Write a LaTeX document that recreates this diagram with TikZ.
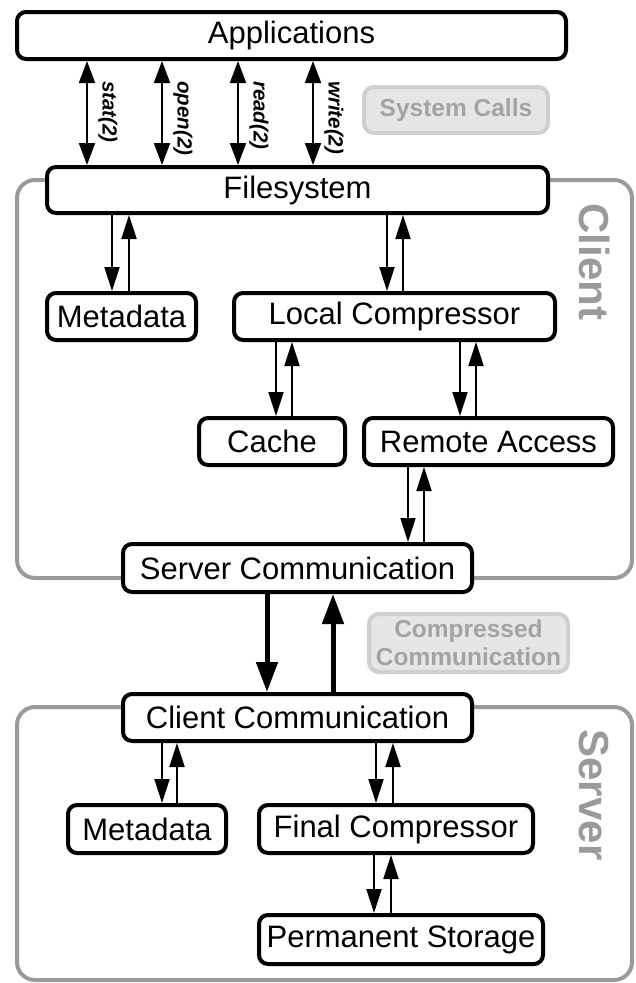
\documentclass[tikz,border=0pt]{standalone}
\usepackage{fontspec}
\setmainfont{Liberation Sans}
\usetikzlibrary{arrows.meta}

\definecolor{regiongray}{HTML}{9A9A9A}
\definecolor{taggray}{HTML}{CFCFCF}
\definecolor{tagfill}{HTML}{E6E6E6}
\definecolor{tagtext}{HTML}{A3A3A3}

\tikzset{
  box/.style={draw=black, line width=4pt, rounded corners=9pt, fill=white, inner sep=0pt,
    font=\fontsize{31}{36}\selectfont},
  region/.style={draw=regiongray, line width=4pt, rounded corners=18pt},
  tag/.style={draw=taggray, fill=tagfill, line width=4pt, rounded corners=10pt, inner sep=0pt,
    text=tagtext, align=center, font=\bfseries\fontsize{24.5}{28}\selectfont},
  side/.style={text=regiongray, rotate=-90, font=\bfseries\fontsize{42}{48}\selectfont},
  flow/.style={-{Triangle[length=24pt,width=15pt]}, line width=2pt},
  bigflow/.style={-{Triangle[length=30pt,width=21pt]}, line width=5pt},
  sysarr/.style={{Triangle[length=22pt,width=16pt]}-{Triangle[length=22pt,width=16pt]}, line width=2pt},
  syslbl/.style={rotate=-90, anchor=west, inner sep=0pt, font=\bfseries\itshape\fontsize{20.5}{24}\selectfont}
}

\begin{document}
\begin{tikzpicture}[x=1pt, y=-1pt]
  \useasboundingbox (0,0) rectangle (635,983);

  % Bereiche
  \draw[region] (17,180) rectangle (632,578);
  \draw[region] (17,707) rectangle (632,980);
  \node[side] (clientlbl) at (595,262) {Client};
  \node[side] (serverlbl) at (594,795) {Server};

  % Client
  \node[box, minimum width=549, minimum height=47] (apps) at (291.5,35.5) {Applications};
  \node[box, minimum width=501, minimum height=46] (fs) at (297.5,190) {Filesystem};
  \node[box, minimum width=149, minimum height=47] (meta1) at (121.5,316.5) {Metadata};
  \node[box, minimum width=321, minimum height=47] (lcomp) at (394.5,316.5) {Local Compressor};
  \node[box, minimum width=146, minimum height=47] (cache) at (272,441.5) {Cache};
  \node[box, minimum width=249, minimum height=47] (remote) at (488.5,441.5) {Remote Access};
  \node[box, minimum width=349, minimum height=48] (scomm) at (297.5,568) {Server Communication};

  % Server
  \node[box, minimum width=349, minimum height=47] (ccomm) at (297.5,717.5) {Client Communication};
  \node[box, minimum width=158, minimum height=48] (meta2) at (147,829) {Metadata};
  \node[box, minimum width=274, minimum height=48] (fcomp) at (396,829) {Final Compressor};
  \node[box, minimum width=284, minimum height=49] (pstore) at (401,939.5) {Permanent Storage};

  % Hinweise
  \node[tag, minimum width=184, minimum height=46] (syscalls) at (456,110) {System Calls};
  \node[tag, minimum width=199, minimum height=58] (compcomm) at (468.5,643) {Compressed\\Communication};

  % Systemaufrufe
  \foreach \x/\call in {87/stat, 162/open, 238/read, 313/write} {
    \draw[sysarr] (apps.south -| \x,0) -- (fs.north -| \x,0);
    \node[syslbl] (\call lbl) at (\x+21,81) {\call(2)};
  }

  % Datenfluss (runter / rauf)
  \foreach \a/\b/\dn/\up in {fs/meta1/112/129, fs/lcomp/387/403, lcomp/cache/276/292,
      lcomp/remote/460/476, remote/scomm/408/424, ccomm/meta2/162/177,
      ccomm/fcomp/376/393, fcomp/pstore/374/391} {
    \draw[flow] (\a.south -| \dn,0) -- (\b.north -| \dn,0);
    \draw[flow] (\b.north -| \up,0) -- (\a.south -| \up,0);
  }

  % Netzwerk
  \draw[bigflow] (scomm.south -| 267,0) -- (ccomm.north -| 267,0);
  \draw[bigflow] (ccomm.north -| 333,0) -- (scomm.south -| 333,0);

\end{tikzpicture}
\end{document}
